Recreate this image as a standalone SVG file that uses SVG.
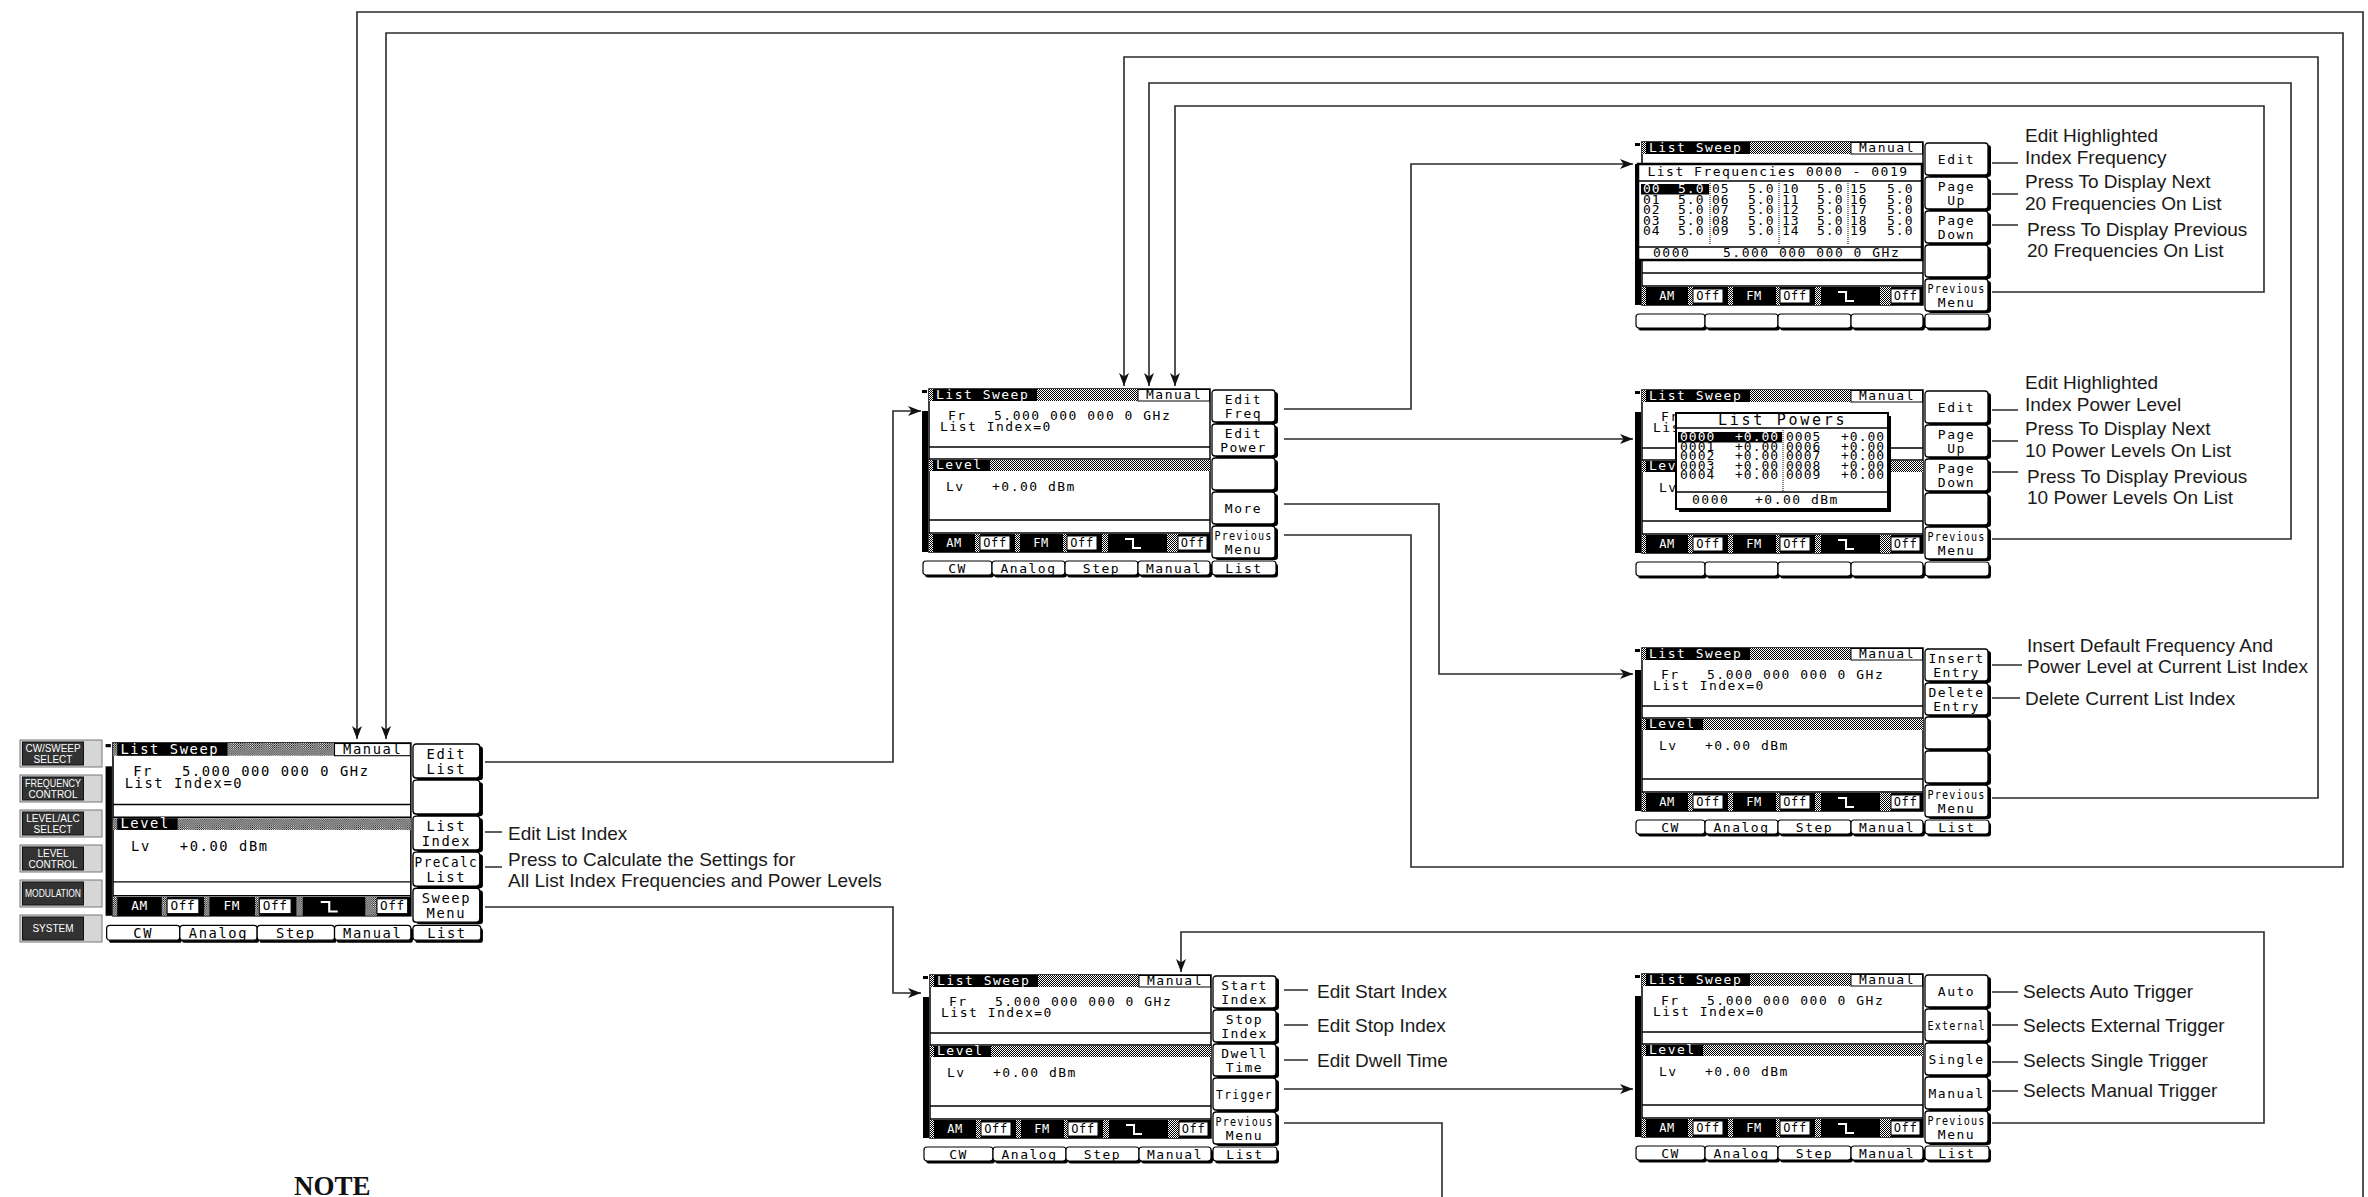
<svg xmlns="http://www.w3.org/2000/svg" width="2368" height="1197" viewBox="0 0 2368 1197">
<style>
.lcd{font-family:"DejaVu Sans Mono","Liberation Mono",monospace;font-size:13px;letter-spacing:1.5px;fill:#000}
.sm{font-size:12px;letter-spacing:0.6px}
.row{font-size:13px;letter-spacing:1px}
.w{fill:#fff}
.c{text-anchor:middle}
.lbl{font-family:"Liberation Sans",Arial,sans-serif;font-size:19px;fill:#1a1a1a}
.conn{fill:none;stroke:#2a2a2a;stroke-width:1.6}
.ldr{fill:none;stroke:#2a2a2a;stroke-width:1.4}
.btn{font-family:"Liberation Sans",Arial,sans-serif;font-size:10px;fill:#fff;text-anchor:middle}
.note{font-family:"Liberation Serif","Times New Roman",serif;font-weight:bold;font-size:27px;fill:#111}
</style>
<defs>
<pattern id="stip" width="2" height="2" patternUnits="userSpaceOnUse">
<rect width="2" height="2" fill="#fff"/><rect width="1" height="1" fill="#000"/><rect x="1" y="1" width="1" height="1" fill="#000"/>
</pattern>
<marker id="ah" viewBox="0 0 13 10" refX="13" refY="5" markerWidth="13" markerHeight="10" markerUnits="userSpaceOnUse" orient="auto">
<path d="M0,0 L13,5 L0,10 L3.5,5 z" fill="#111"/>
</marker>
<g id="frame">
<rect x="-7" y="1" width="5" height="3" fill="#000"/>
<rect x="-7" y="22" width="6" height="141" fill="#000"/>
<rect x="0" y="0" width="281" height="163" fill="#fff" stroke="#000" stroke-width="1.5"/>
<rect x="0" y="0" width="281" height="12" fill="url(#stip)"/>
<rect x="4" y="0" width="104" height="12" fill="#000"/>
<rect x="209" y="0.5" width="71.5" height="11.5" fill="#fff" stroke="#000"/>
<path d="M0,58H281M0,70H281M0,131H281M0,144H281" stroke="#000" stroke-width="1.3"/>
<rect x="0" y="71" width="281" height="11" fill="url(#stip)"/>
<rect x="4" y="71" width="57" height="11" fill="#000"/>
<rect x="0" y="145" width="281" height="18" fill="#000"/>
<g fill="url(#stip)">
<rect x="0" y="145" width="4" height="18"/><rect x="46" y="145" width="5" height="18"/><rect x="86" y="145" width="5" height="18"/><rect x="134" y="145" width="4" height="18"/><rect x="173" y="145" width="6" height="18"/><rect x="238" y="145" width="11" height="18"/>
</g>
<g fill="#fff" stroke="#000">
<rect x="51" y="147" width="30" height="14"/><rect x="138" y="147" width="30" height="14"/><rect x="249" y="147" width="29" height="14"/>
</g>
<path d="M196,150h8v9h8" fill="none" stroke="#fff" stroke-width="2"/>
</g>
<g id="keys">
<g fill="#000">
<rect x="286" y="3" width="63" height="32" rx="3"/><rect x="286" y="37" width="63" height="32" rx="3"/><rect x="286" y="71" width="63" height="32" rx="3"/><rect x="286" y="105" width="63" height="32" rx="3"/><rect x="286" y="139" width="63" height="32" rx="3"/>
</g>
<g fill="#fff" stroke="#000" stroke-width="1.3">
<rect x="283" y="1" width="63" height="32" rx="3"/><rect x="283" y="35" width="63" height="32" rx="3"/><rect x="283" y="69" width="63" height="32" rx="3"/><rect x="283" y="103" width="63" height="32" rx="3"/><rect x="283" y="137" width="63" height="32" rx="3"/>
</g>
</g>
<g id="tabs">
<g fill="#000">
<rect x="-4" y="174.5" width="69" height="14" rx="3"/><rect x="65" y="174.5" width="73" height="14" rx="3"/><rect x="138" y="174.5" width="73" height="14" rx="3"/><rect x="211" y="174.5" width="72" height="14" rx="3"/><rect x="285" y="174.5" width="64" height="14" rx="3"/>
</g>
<g fill="#fff" stroke="#000" stroke-width="1.2">
<rect x="-6" y="172" width="69" height="14" rx="3"/><rect x="63" y="172" width="73" height="14" rx="3"/><rect x="136" y="172" width="73" height="14" rx="3"/><rect x="209" y="172" width="72" height="14" rx="3"/><rect x="283" y="172" width="64" height="14" rx="3"/>
</g>
</g>
</defs>
<rect width="2368" height="1197" fill="#fff"/>

<g id="connectors">
<path class="conn" marker-end="url(#ah)" d="M485,762H893V411H921"/>
<path class="conn" marker-end="url(#ah)" d="M485,907H893V993H921"/>
<path class="conn" marker-end="url(#ah)" d="M1284,409H1411V164H1633"/>
<path class="conn" marker-end="url(#ah)" d="M1284,439H1633"/>
<path class="conn" marker-end="url(#ah)" d="M1284,504H1439V674H1633"/>
<path class="conn" marker-end="url(#ah)" d="M1284,535H1411V867H2343V33H386V739"/>
<path class="conn" marker-end="url(#ah)" d="M1992,292H2264V106H1175V386"/>
<path class="conn" marker-end="url(#ah)" d="M1992,539H2291V83H1149V386"/>
<path class="conn" marker-end="url(#ah)" d="M1992,798H2318V57H1124V386"/>
<path class="conn" marker-end="url(#ah)" d="M2363,1197V12H357V739"/>
<path class="conn" marker-end="url(#ah)" d="M1284,1089H1633"/>
<path class="conn" marker-end="url(#ah)" d="M1992,1123H2264V932H1181V972"/>
<path class="conn" d="M1284,1123H1442V1197"/>
<g id="leaders">
<path class="ldr" d="M485,832H502M485,867H502"/>
<path class="ldr" d="M1284,990H1308M1284,1025H1308M1284,1060H1308"/>
<path class="ldr" d="M1992,163H2018M1992,194H2018M1992,225H2018"/>
<path class="ldr" d="M1992,410H2018M1992,441H2018M1992,472H2018"/>
<path class="ldr" d="M1992,665H2022M1992,698H2020"/>
<path class="ldr" d="M1992,992H2018M1992,1025H2018M1992,1062H2018M1992,1091H2018"/>
</g>
</g>

<g id="front-panel-keys">
<g fill="#d6d6d6" stroke="#777" stroke-width="1">
<rect x="20" y="740" width="82" height="27"/><rect x="20" y="775" width="82" height="27"/><rect x="20" y="810" width="82" height="27"/><rect x="20" y="845" width="82" height="27"/><rect x="20" y="880" width="82" height="27"/><rect x="20" y="915" width="82" height="27"/>
</g>
<g fill="#333" stroke="#111" stroke-width="1">
<rect x="22.5" y="742" width="61" height="23"/><rect x="22.5" y="777" width="61" height="23"/><rect x="22.5" y="812" width="61" height="23"/><rect x="22.5" y="847" width="61" height="23"/><rect x="22.5" y="882" width="61" height="23"/><rect x="22.5" y="917" width="61" height="23"/>
</g>
<text class="btn" x="53" y="752" textLength="55" lengthAdjust="spacingAndGlyphs">CW/SWEEP</text><text class="btn" x="53" y="763">SELECT</text>
<text class="btn" x="53" y="787" textLength="56" lengthAdjust="spacingAndGlyphs">FREQUENCY</text><text class="btn" x="53" y="798">CONTROL</text>
<text class="btn" x="53" y="822">LEVEL/ALC</text><text class="btn" x="53" y="833">SELECT</text>
<text class="btn" x="53" y="857">LEVEL</text><text class="btn" x="53" y="868">CONTROL</text>
<text class="btn" x="53" y="897" textLength="56" lengthAdjust="spacingAndGlyphs">MODULATION</text>
<text class="btn" x="53" y="932">SYSTEM</text>
</g>

<g id="screen-list-sweep" transform="translate(113,743) scale(1.06)">
<use href="#frame"/><use href="#keys"/><use href="#tabs"/>
<text class="lcd w" x="7" y="10">List Sweep</text><text class="lcd c" x="245" y="10">Manual</text>
<text class="lcd" x="19" y="31">Fr</text><text class="lcd" x="65" y="31">5.000 000 000 0 GHz</text>
<text class="lcd" x="11" y="42">List Index=0</text>
<text class="lcd w" x="7" y="80">Level</text>
<text class="lcd" x="17" y="102">Lv</text><text class="lcd" x="63" y="102">+0.00 dBm</text>
<g class="lcd sm c"><text class="w" x="25" y="158">AM</text><text x="66" y="158">Off</text><text class="w" x="112" y="158">FM</text><text x="153" y="158">Off</text><text x="263.5" y="158">Off</text></g>
<g class="lcd c">
<text x="314.5" y="15">Edit</text><text x="314.5" y="29">List</text>
<text x="314.5" y="83">List</text><text x="314.5" y="97">Index</text>
<text x="314.5" y="117" textLength="60" lengthAdjust="spacingAndGlyphs">PreCalc</text><text x="314.5" y="131">List</text>
<text x="314.5" y="151">Sweep</text><text x="314.5" y="165">Menu</text>
<text x="28.5" y="184">CW</text><text x="99.5" y="184">Analog</text><text x="172.5" y="184">Step</text><text x="245" y="184">Manual</text><text x="315" y="184">List</text>
</g>
</g>

<g id="screen-edit-list" transform="translate(929,389)">
<use href="#frame"/><use href="#keys"/><use href="#tabs"/>
<text class="lcd w" x="7" y="10">List Sweep</text><text class="lcd c" x="245" y="10">Manual</text>
<text class="lcd" x="19" y="31">Fr</text><text class="lcd" x="65" y="31">5.000 000 000 0 GHz</text>
<text class="lcd" x="11" y="42">List Index=0</text>
<text class="lcd w" x="7" y="80">Level</text>
<text class="lcd" x="17" y="102">Lv</text><text class="lcd" x="63" y="102">+0.00 dBm</text>
<g class="lcd sm c"><text class="w" x="25" y="158">AM</text><text x="66" y="158">Off</text><text class="w" x="112" y="158">FM</text><text x="153" y="158">Off</text><text x="263.5" y="158">Off</text></g>
<g class="lcd c">
<text x="314.5" y="15">Edit</text><text x="314.5" y="29">Freq</text>
<text x="314.5" y="49">Edit</text><text x="314.5" y="63">Power</text>
<text x="314.5" y="124">More</text>
<text x="314.5" y="151" textLength="58" lengthAdjust="spacingAndGlyphs">Previous</text><text x="314.5" y="165">Menu</text>
<text x="28.5" y="184">CW</text><text x="99.5" y="184">Analog</text><text x="172.5" y="184">Step</text><text x="245" y="184">Manual</text><text x="315" y="184">List</text>
</g>
</g>

<g id="screen-sweep-menu" transform="translate(930,975)">
<use href="#frame"/><use href="#keys"/><use href="#tabs"/>
<text class="lcd w" x="7" y="10">List Sweep</text><text class="lcd c" x="245" y="10">Manual</text>
<text class="lcd" x="19" y="31">Fr</text><text class="lcd" x="65" y="31">5.000 000 000 0 GHz</text>
<text class="lcd" x="11" y="42">List Index=0</text>
<text class="lcd w" x="7" y="80">Level</text>
<text class="lcd" x="17" y="102">Lv</text><text class="lcd" x="63" y="102">+0.00 dBm</text>
<g class="lcd sm c"><text class="w" x="25" y="158">AM</text><text x="66" y="158">Off</text><text class="w" x="112" y="158">FM</text><text x="153" y="158">Off</text><text x="263.5" y="158">Off</text></g>
<g class="lcd c">
<text x="314.5" y="15">Start</text><text x="314.5" y="29">Index</text>
<text x="314.5" y="49">Stop</text><text x="314.5" y="63">Index</text>
<text x="314.5" y="83">Dwell</text><text x="314.5" y="97">Time</text>
<text x="314.5" y="124" textLength="57" lengthAdjust="spacingAndGlyphs">Trigger</text>
<text x="314.5" y="151" textLength="58" lengthAdjust="spacingAndGlyphs">Previous</text><text x="314.5" y="165">Menu</text>
<text x="28.5" y="184">CW</text><text x="99.5" y="184">Analog</text><text x="172.5" y="184">Step</text><text x="245" y="184">Manual</text><text x="315" y="184">List</text>
</g>
</g>

<g id="screen-list-frequencies" transform="translate(1642,142)">
<use href="#frame"/><use href="#keys"/><use href="#tabs"/>
<text class="lcd w" x="7" y="10">List Sweep</text><text class="lcd c" x="245" y="10">Manual</text>
<g class="lcd sm c"><text class="w" x="25" y="158">AM</text><text x="66" y="158">Off</text><text class="w" x="112" y="158">FM</text><text x="153" y="158">Off</text><text x="263.5" y="158">Off</text></g>
<rect x="-4" y="22" width="284" height="96" fill="#fff" stroke="#000" stroke-width="2.5"/>
<text class="lcd c" x="136" y="34">List Frequencies 0000 - 0019</text>
<path d="M-4,39H280M-4,105H280" stroke="#000" stroke-width="1.5"/>
<path d="M68,41V103M137,41V103M206,41V103" stroke="#000" stroke-width="1" stroke-dasharray="1 1"/>
<rect x="-1" y="42" width="68" height="10.5" fill="#000"/>
<g class="lcd row">
<text y="51"><tspan class="w" x="1">00</tspan><tspan class="w" x="36">5.0</tspan><tspan x="70">05</tspan><tspan x="106">5.0</tspan><tspan x="140">10</tspan><tspan x="175">5.0</tspan><tspan x="208">15</tspan><tspan x="245">5.0</tspan></text>
<text y="61.5"><tspan x="1">01</tspan><tspan x="36">5.0</tspan><tspan x="70">06</tspan><tspan x="106">5.0</tspan><tspan x="140">11</tspan><tspan x="175">5.0</tspan><tspan x="208">16</tspan><tspan x="245">5.0</tspan></text>
<text y="72"><tspan x="1">02</tspan><tspan x="36">5.0</tspan><tspan x="70">07</tspan><tspan x="106">5.0</tspan><tspan x="140">12</tspan><tspan x="175">5.0</tspan><tspan x="208">17</tspan><tspan x="245">5.0</tspan></text>
<text y="82.5"><tspan x="1">03</tspan><tspan x="36">5.0</tspan><tspan x="70">08</tspan><tspan x="106">5.0</tspan><tspan x="140">13</tspan><tspan x="175">5.0</tspan><tspan x="208">18</tspan><tspan x="245">5.0</tspan></text>
<text y="93"><tspan x="1">04</tspan><tspan x="36">5.0</tspan><tspan x="70">09</tspan><tspan x="106">5.0</tspan><tspan x="140">14</tspan><tspan x="175">5.0</tspan><tspan x="208">19</tspan><tspan x="245">5.0</tspan></text>
</g>
<text class="lcd" y="115"><tspan x="11">0000</tspan><tspan x="81">5.000 000 000 0 GHz</tspan></text>
<g class="lcd c">
<text x="314.5" y="22">Edit</text>
<text x="314.5" y="49">Page</text><text x="314.5" y="63">Up</text>
<text x="314.5" y="83">Page</text><text x="314.5" y="97">Down</text>
<text x="314.5" y="151" textLength="58" lengthAdjust="spacingAndGlyphs">Previous</text><text x="314.5" y="165">Menu</text>
</g>
</g>

<g id="screen-list-powers" transform="translate(1642,390)">
<use href="#frame"/><use href="#keys"/><use href="#tabs"/>
<text class="lcd w" x="7" y="10">List Sweep</text><text class="lcd c" x="245" y="10">Manual</text>
<text class="lcd" x="19" y="31">Fr</text><text class="lcd" x="11" y="42">List Index=0</text>
<text class="lcd w" x="7" y="80">Level</text>
<text class="lcd" x="17" y="102">Lv</text>
<g class="lcd sm c"><text class="w" x="25" y="158">AM</text><text x="66" y="158">Off</text><text class="w" x="112" y="158">FM</text><text x="153" y="158">Off</text><text x="263.5" y="158">Off</text></g>
<rect x="37" y="26" width="212" height="96" fill="#000"/>
<rect x="34" y="23" width="212" height="96" fill="#fff" stroke="#000" stroke-width="2"/>
<text class="lcd c" x="140" y="35" style="font-size:15px" textLength="128" lengthAdjust="spacing">List Powers</text>
<path d="M34,38H246M34,102H246" stroke="#000" stroke-width="1.5"/>
<path d="M141,40V101" stroke="#000" stroke-width="1" stroke-dasharray="1 1"/>
<rect x="36" y="42" width="104" height="10.5" fill="#000"/>
<g class="lcd row">
<text y="51"><tspan class="w" x="38">0000</tspan><tspan class="w" x="93">+0.00</tspan><tspan x="144">0005</tspan><tspan x="199">+0.00</tspan></text>
<text y="60.5"><tspan x="38">0001</tspan><tspan x="93">+0.00</tspan><tspan x="144">0006</tspan><tspan x="199">+0.00</tspan></text>
<text y="70"><tspan x="38">0002</tspan><tspan x="93">+0.00</tspan><tspan x="144">0007</tspan><tspan x="199">+0.00</tspan></text>
<text y="79.5"><tspan x="38">0003</tspan><tspan x="93">+0.00</tspan><tspan x="144">0008</tspan><tspan x="199">+0.00</tspan></text>
<text y="89"><tspan x="38">0004</tspan><tspan x="93">+0.00</tspan><tspan x="144">0009</tspan><tspan x="199">+0.00</tspan></text>
</g>
<text class="lcd" y="114"><tspan x="50">0000</tspan><tspan x="113">+0.00 dBm</tspan></text>
<g class="lcd c">
<text x="314.5" y="22">Edit</text>
<text x="314.5" y="49">Page</text><text x="314.5" y="63">Up</text>
<text x="314.5" y="83">Page</text><text x="314.5" y="97">Down</text>
<text x="314.5" y="151" textLength="58" lengthAdjust="spacingAndGlyphs">Previous</text><text x="314.5" y="165">Menu</text>
</g>
</g>

<g id="screen-more" transform="translate(1642,648)">
<use href="#frame"/><use href="#keys"/><use href="#tabs"/>
<text class="lcd w" x="7" y="10">List Sweep</text><text class="lcd c" x="245" y="10">Manual</text>
<text class="lcd" x="19" y="31">Fr</text><text class="lcd" x="65" y="31">5.000 000 000 0 GHz</text>
<text class="lcd" x="11" y="42">List Index=0</text>
<text class="lcd w" x="7" y="80">Level</text>
<text class="lcd" x="17" y="102">Lv</text><text class="lcd" x="63" y="102">+0.00 dBm</text>
<g class="lcd sm c"><text class="w" x="25" y="158">AM</text><text x="66" y="158">Off</text><text class="w" x="112" y="158">FM</text><text x="153" y="158">Off</text><text x="263.5" y="158">Off</text></g>
<g class="lcd c">
<text x="314.5" y="15">Insert</text><text x="314.5" y="29">Entry</text>
<text x="314.5" y="49">Delete</text><text x="314.5" y="63">Entry</text>
<text x="314.5" y="151" textLength="58" lengthAdjust="spacingAndGlyphs">Previous</text><text x="314.5" y="165">Menu</text>
<text x="28.5" y="184">CW</text><text x="99.5" y="184">Analog</text><text x="172.5" y="184">Step</text><text x="245" y="184">Manual</text><text x="315" y="184">List</text>
</g>
</g>

<g id="screen-trigger" transform="translate(1642,974)">
<use href="#frame"/><use href="#keys"/><use href="#tabs"/>
<text class="lcd w" x="7" y="10">List Sweep</text><text class="lcd c" x="245" y="10">Manual</text>
<text class="lcd" x="19" y="31">Fr</text><text class="lcd" x="65" y="31">5.000 000 000 0 GHz</text>
<text class="lcd" x="11" y="42">List Index=0</text>
<text class="lcd w" x="7" y="80">Level</text>
<text class="lcd" x="17" y="102">Lv</text><text class="lcd" x="63" y="102">+0.00 dBm</text>
<g class="lcd sm c"><text class="w" x="25" y="158">AM</text><text x="66" y="158">Off</text><text class="w" x="112" y="158">FM</text><text x="153" y="158">Off</text><text x="263.5" y="158">Off</text></g>
<g class="lcd c">
<text x="314.5" y="22">Auto</text>
<text x="314.5" y="56" textLength="58" lengthAdjust="spacingAndGlyphs">External</text>
<text x="314.5" y="90">Single</text>
<text x="314.5" y="124">Manual</text>
<text x="314.5" y="151" textLength="58" lengthAdjust="spacingAndGlyphs">Previous</text><text x="314.5" y="165">Menu</text>
<text x="28.5" y="184">CW</text><text x="99.5" y="184">Analog</text><text x="172.5" y="184">Step</text><text x="245" y="184">Manual</text><text x="315" y="184">List</text>
</g>
</g>

<g id="annotations" class="lbl">
<text x="508" y="840">Edit List Index</text>
<text x="508" y="866">Press to Calculate the Settings for</text>
<text x="508" y="887">All List Index Frequencies and Power Levels</text>
<text x="1317" y="998">Edit Start Index</text>
<text x="1317" y="1032">Edit Stop Index</text>
<text x="1317" y="1067">Edit Dwell Time</text>
<text x="2025" y="142">Edit Highlighted</text>
<text x="2025" y="164">Index Frequency</text>
<text x="2025" y="188">Press To Display Next</text>
<text x="2025" y="210">20 Frequencies On List</text>
<text x="2027" y="236">Press To Display Previous</text>
<text x="2027" y="257">20 Frequencies On List</text>
<text x="2025" y="389">Edit Highlighted</text>
<text x="2025" y="411">Index Power Level</text>
<text x="2025" y="435">Press To Display Next</text>
<text x="2025" y="457">10 Power Levels On List</text>
<text x="2027" y="483">Press To Display Previous</text>
<text x="2027" y="504">10 Power Levels On List</text>
<text x="2027" y="652">Insert Default Frequency And</text>
<text x="2027" y="673">Power Level at Current List Index</text>
<text x="2025" y="705">Delete Current List Index</text>
<text x="2023" y="998">Selects Auto Trigger</text>
<text x="2023" y="1032">Selects External Trigger</text>
<text x="2023" y="1067">Selects Single Trigger</text>
<text x="2023" y="1097">Selects Manual Trigger</text>
</g>
<text class="note" x="294" y="1195">NOTE</text>
</svg>
